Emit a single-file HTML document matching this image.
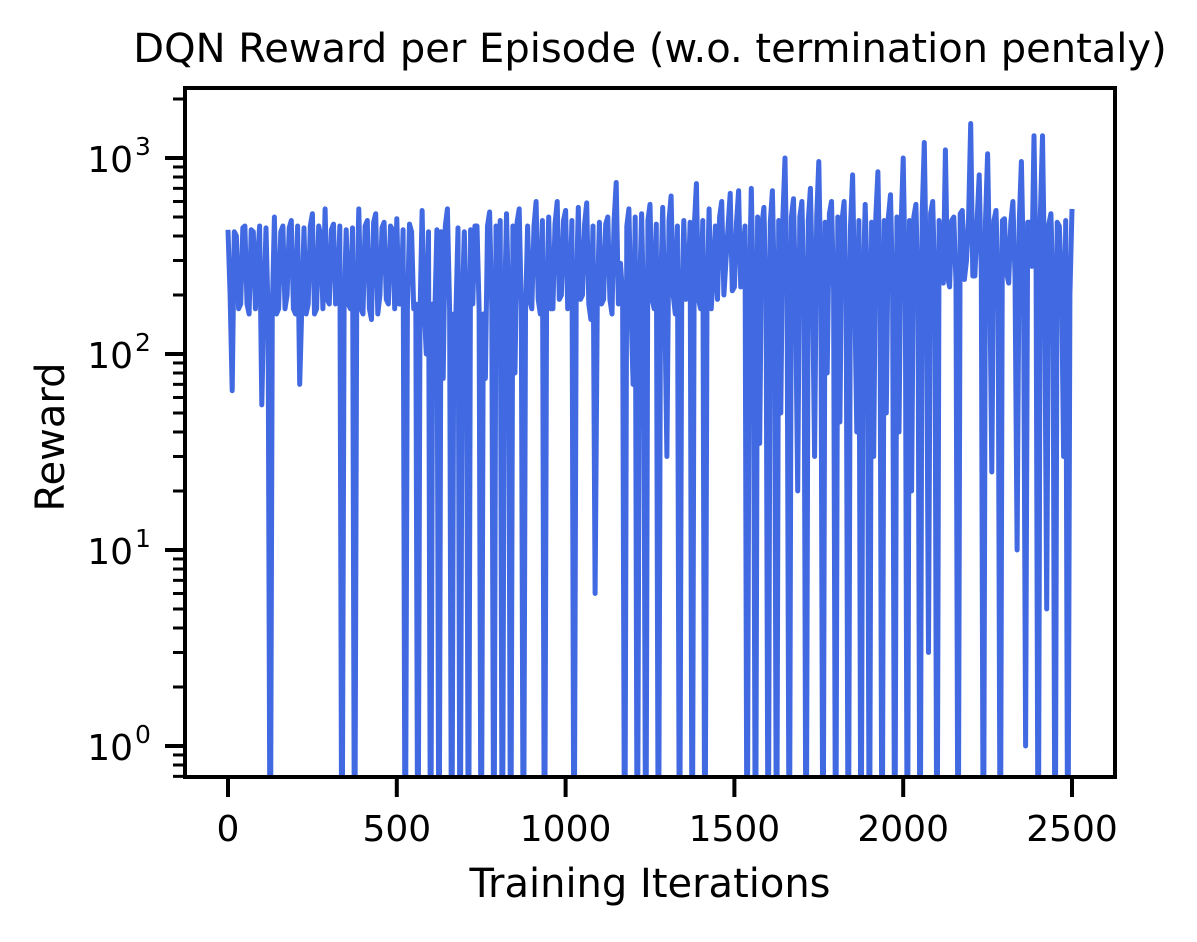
<!DOCTYPE html>
<html><head><meta charset="utf-8"><style>
body{margin:0;background:#fff;}
svg text{font-family:"DejaVu Sans","Liberation Sans",sans-serif;fill:#000;}
</style></head><body>
<svg id="chart" width="1197" height="937" xmlns="http://www.w3.org/2000/svg">
<text x="650" y="62" font-size="40" text-anchor="middle">DQN Reward per Episode (w.o. termination pentaly)</text>
<text x="650" y="897" font-size="40" text-anchor="middle">Training Iterations</text>
<text x="64" y="437" font-size="40" text-anchor="middle" transform="rotate(-90 64 437)">Reward</text>
<defs><clipPath id="clip"><rect x="185" y="88" width="930" height="689"/></clipPath></defs>
<g id="ticks"></g>
<polyline id="series" clip-path="url(#clip)" fill="none" stroke="#4169e1" stroke-width="5" stroke-linejoin="round"/>
<rect x="185" y="88" width="930" height="689" fill="none" stroke="#000" stroke-width="4"/>
</svg>
<script>
const xStep = 12.5;
const rewards = [
430,65,400,180,450,160,420,300,55,440,
0.1,500,170,450,200,480,160,70,440,180,
520,170,400,550,180,460,190,0.1,430,170,
0.1,550,160,480,150,520,200,470,180,430,
490,180,0.1,460,170,0.1,540,100,0.1,160,
0.1,75,550,0.1,160,0.1,420,0.1,180,450,
0.1,75,530,0.1,130,0.1,520,0.1,80,550,
0.1,450,170,600,160,0.1,500,170,600,200,
540,180,0.1,560,200,590,150,6,470,190,
500,160,750,290,0.1,550,70,0.1,520,0.1,
580,170,0.1,560,30,640,160,0.1,480,200,
0.1,740,170,0.1,550,250,190,600,300,660,
220,680,300,0.1,700,0.1,35,560,0.1,680,
0.1,50,1000,0.1,620,20,600,0.1,700,30,
960,0.1,80,600,0.1,45,600,0.1,820,40,
0.1,580,0.1,30,850,0.1,50,650,0.1,40,
1000,0.1,20,580,0.1,1200,3,600,0.1,280,
1100,220,500,0.1,540,300,1500,250,820,0.1,
1050,25,540,0.1,490,230,600,10,960,1,
470,1300,0.1,1300,5,520,0.1,450,30,0.1,
550];
const rewardsMid = [
200,420,170,440,180,430,170,450,180,160,
170,160,420,170,440,170,450,180,160,450,
160,450,170,190,430,180,450,170,180,440,
180,170,450,170,470,160,440,190,450,170,
180,430,170,420,180,160,170,420,180,430,
420,450,170,160,440,170,180,430,450,170,
160,450,170,450,480,160,180,450,470,170,
160,190,450,190,480,200,170,460,190,480,
170,480,200,190,460,180,450,190,180,460,
190,480,180,200,450,170,500,200,160,480,
190,460,200,170,480,200,450,180,190,470,
450,190,480,200,170,450,500,200,450,210,
470,220,450,200,190,500,450,200,470,200,
480,500,200,500,180,500,200,480,220,500,
220,470,520,210,500,480,200,450,200,480,
220,230,470,500,200,480,500,210,500,450,
230,480,500,220,520,240,520,220,480,230,
250,480,230,520,240,500,250,480,260,480,
260,480,240,480,260,470,250,480,260,470,
280,260,500,240,460,220,470,240,480,200];
const xTicks = [0,500,1000,1500,2000,2500];
const yDecades = [0,1,2,3];
const yExponents = ["0","1","2","3"];

const NS="http://www.w3.org/2000/svg";
function xs(v){return 228+v*(844/2500);}
function ys(v){return 746-Math.log10(v)*196;}
const g=document.getElementById('ticks');
function line(x1,y1,x2,y2,w,name){const l=document.createElementNS(NS,'line');
l.setAttribute('x1',x1);l.setAttribute('y1',y1);l.setAttribute('x2',x2);l.setAttribute('y2',y2);
l.setAttribute('stroke','#000');l.setAttribute('stroke-width',w);


g.appendChild(l);}
function txt(x,y,s,anchor,name,size){const t=document.createElementNS(NS,'text');
t.setAttribute('x',x);t.setAttribute('y',y);t.setAttribute('text-anchor',anchor);t.setAttribute('font-size',size);
t.textContent=s;


g.appendChild(t);return t;}
xTicks.forEach(v=>{const x=xs(v);line(x,777,x,797,4,'x-tick');txt(x,841,String(v),'middle','x-tick-label',36);});
yDecades.forEach((d,i)=>{const y=ys(Math.pow(10,d));line(165,y,185,y,4,'y-tick');
  txt(133,y+14,'10','end','y-tick-label',36);
  txt(135,y-3,yExponents[i],'start','y-tick-exponent',25);});
for(let d=-1;d<=3;d++){for(let m=2;m<=9;m++){const v=m*Math.pow(10,d);const y=ys(v);if(y>=88&&y<=777)line(173,y,185,y,3,'y-minor-tick');}}
const pts=[];
rewards.forEach((r,i)=>{
  pts.push(xs(i*xStep).toFixed(1)+','+ys(r).toFixed(1));
  if(i<rewardsMid.length)pts.push(xs(i*xStep+xStep/2).toFixed(1)+','+ys(rewardsMid[i]).toFixed(1));
});
document.getElementById('series').setAttribute('points',pts.join(' '));
</script>
</body></html>
